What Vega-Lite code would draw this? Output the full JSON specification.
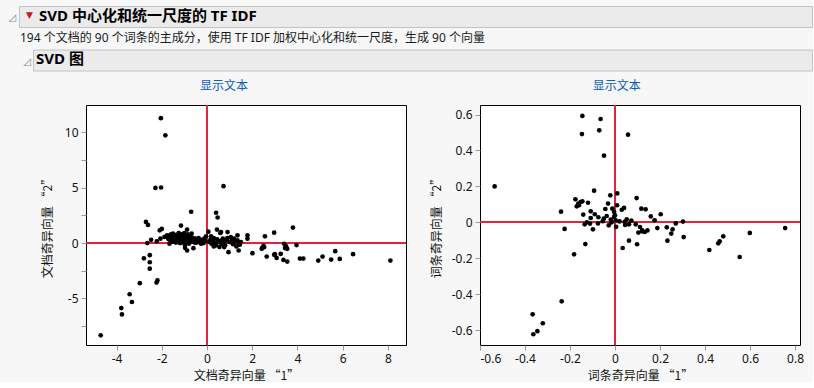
{
  "$schema": "https://vega.github.io/schema/vega-lite/v6.json",
  "background": "#f7f7f7",
  "padding": {"left": 4, "top": 5, "right": 0, "bottom": 0},
  "config": {
    "font": "Noto Sans, Noto Sans CJK SC",
    "view": {"stroke": "#000", "fill": "#ffffff", "strokeWidth": 1},
    "axis": {"grid": false, "domain": false, "tickColor": "#9a9a9a", "tickSize": 5, "labelFontSize": 12, "labelColor": "#111", "labelFont": "Noto Sans, Noto Sans CJK SC", "titleFont": "Noto Sans CJK SC", "titleFontSize": 12, "titleFontWeight": "normal", "titleColor": "#111", "labelPadding": 3, "labelOverlap": false, "tickCount": 30},
    "locale": {"number": {"decimal": ".", "thousands": ",", "grouping": [3], "currency": ["", ""], "minus": "-"}}
  },
  "title": {"text": "▼", "color": "#d0161e", "fontSize": 9, "anchor": "start", "frame": "group", "offset": -15, "dx": 21, "font": "DejaVu Sans"},
  "datasets": {
    "docs": [
      {"x": -4.70, "y": -8.33}, {"x": -3.79, "y": -5.87}, {"x": -3.76, "y": -6.44}, {"x": -3.42, "y": -4.62}, {"x": -3.32, "y": -5.32}, {"x": -2.97, "y": -3.62}, {"x": -2.79, "y": -1.37}, {"x": -2.53, "y": -1.09}, {"x": -2.53, "y": -1.73}, {"x": -2.53, "y": -2.31}, {"x": -2.23, "y": -3.56}, {"x": -2.19, "y": -3.37},
      {"x": -2.04, "y": 11.28}, {"x": -1.84, "y": 9.73}, {"x": -2.28, "y": 4.98}, {"x": -2.03, "y": 5.02}, {"x": -2.70, "y": 1.91}, {"x": -2.61, "y": 1.64}, {"x": -0.70, "y": 2.83}, {"x": 0.73, "y": 5.14}, {"x": 0.40, "y": 2.74}, {"x": 0.47, "y": 2.31},
      {"x": -2.64, "y": 0.0}, {"x": -2.47, "y": 0.30}, {"x": -2.22, "y": 0.15}, {"x": -2.09, "y": 1.15}, {"x": -2.00, "y": 1.28}, {"x": -2.06, "y": 0.40}, {"x": -1.88, "y": 0.55}, {"x": -1.76, "y": 0.70}, {"x": -1.66, "y": -0.06}, {"x": -1.59, "y": 0.79}, {"x": -1.15, "y": 1.58}, {"x": -0.88, "y": 1.22}, {"x": -0.68, "y": 0.85}, {"x": -0.97, "y": -0.43}, {"x": -0.88, "y": -0.67}, {"x": -0.60, "y": -0.46}, {"x": -0.26, "y": -0.06}, {"x": -0.04, "y": 0.61}, {"x": 0.06, "y": 1.03},
      {"x": -1.80, "y": 0.60}, {"x": -1.72, "y": 0.55}, {"x": -1.65, "y": 0.45}, {"x": -1.60, "y": 0.62}, {"x": -1.55, "y": 0.30}, {"x": -1.52, "y": 0.50}, {"x": -1.48, "y": 0.72}, {"x": -1.45, "y": 0.20}, {"x": -1.42, "y": 0.40}, {"x": -1.40, "y": 0.60}, {"x": -1.38, "y": 0.05}, {"x": -1.35, "y": 0.75}, {"x": -1.33, "y": 0.35}, {"x": -1.30, "y": 0.50}, {"x": -1.28, "y": 0.15}, {"x": -1.25, "y": 0.65}, {"x": -1.22, "y": 0.30}, {"x": -1.20, "y": 0.45}, {"x": -1.18, "y": 0.00}, {"x": -1.15, "y": 0.55}, {"x": -1.12, "y": 0.25}, {"x": -1.10, "y": 0.70}, {"x": -1.08, "y": 0.10}, {"x": -1.05, "y": 0.40}, {"x": -1.02, "y": 0.60}, {"x": -1.00, "y": 0.20}, {"x": -0.98, "y": -0.15}, {"x": -0.95, "y": 0.50}, {"x": -0.92, "y": 0.30}, {"x": -0.90, "y": 0.05}, {"x": -0.87, "y": 0.45}, {"x": -0.85, "y": 0.80}, {"x": -0.82, "y": 0.20}, {"x": -0.80, "y": -0.05}, {"x": -0.78, "y": 0.35}, {"x": -0.75, "y": 0.55}, {"x": -0.72, "y": 0.10}, {"x": -0.70, "y": 0.30}, {"x": -0.65, "y": 0.15}, {"x": -0.60, "y": 0.40}, {"x": -0.55, "y": 0.05}, {"x": -0.50, "y": 0.20}, {"x": -0.45, "y": 0.35}, {"x": -0.40, "y": 0.10}, {"x": -0.35, "y": 0.25}, {"x": -0.30, "y": 0.05}, {"x": -0.25, "y": 0.30}, {"x": -0.20, "y": 0.15}, {"x": -0.15, "y": 0.00}, {"x": -0.12, "y": 0.40}, {"x": -0.08, "y": 0.20}, {"x": -1.60, "y": 0.20}, {"x": -1.50, "y": 0.85}, {"x": -1.25, "y": 0.90}, {"x": -1.00, "y": 0.90},
      {"x": -1.70, "y": 0.35}, {"x": -1.62, "y": 0.70}, {"x": -1.57, "y": 0.10}, {"x": -1.47, "y": 0.55}, {"x": -1.43, "y": 0.25}, {"x": -1.37, "y": 0.45}, {"x": -1.32, "y": 0.65}, {"x": -1.27, "y": 0.30}, {"x": -1.23, "y": 0.05}, {"x": -1.17, "y": 0.35}, {"x": -1.13, "y": 0.80}, {"x": -1.07, "y": 0.50}, {"x": -1.03, "y": 0.15}, {"x": -0.97, "y": 0.35}, {"x": -0.93, "y": 0.65}, {"x": -0.89, "y": 0.15}, {"x": -0.84, "y": 0.40}, {"x": -0.79, "y": 0.60}, {"x": -0.74, "y": 0.20}, {"x": -0.68, "y": 0.50}, {"x": -0.63, "y": 0.30}, {"x": -0.58, "y": 0.15}, {"x": -0.52, "y": 0.40}, {"x": -0.47, "y": 0.05}, {"x": -0.42, "y": 0.25}, {"x": -0.37, "y": 0.45}, {"x": -0.32, "y": 0.15}, {"x": -0.22, "y": 0.05},
      {"x": 0.44, "y": 1.22}, {"x": 0.59, "y": 0.91}, {"x": 0.91, "y": 1.0}, {"x": 0.95, "y": -0.82}, {"x": 0.76, "y": -0.36}, {"x": 1.35, "y": 0.70}, {"x": 1.40, "y": -0.67}, {"x": 0.62, "y": 1.0}, {"x": 0.10, "y": 0.10}, {"x": 0.15, "y": 0.30}, {"x": 0.20, "y": -0.05}, {"x": 0.25, "y": 0.20}, {"x": 0.30, "y": 0.45}, {"x": 0.35, "y": 0.05}, {"x": 0.40, "y": -0.20}, {"x": 0.45, "y": 0.35}, {"x": 0.50, "y": 0.10}, {"x": 0.55, "y": -0.35}, {"x": 0.60, "y": 0.20}, {"x": 0.65, "y": -0.10}, {"x": 0.70, "y": 0.40}, {"x": 0.75, "y": 0.05}, {"x": 0.80, "y": -0.20}, {"x": 0.85, "y": 0.25}, {"x": 0.90, "y": 0.45}, {"x": 1.00, "y": 0.10}, {"x": 1.05, "y": 0.55}, {"x": 1.10, "y": 0.30}, {"x": 1.15, "y": -0.10}, {"x": 1.20, "y": 0.40}, {"x": 1.25, "y": 0.15}, {"x": 1.30, "y": -0.30}, {"x": 1.35, "y": 0.25}, {"x": 1.40, "y": 0.05}, {"x": 1.45, "y": -0.15}, {"x": 1.50, "y": 0.10}, {"x": 0.30, "y": -0.30}, {"x": 0.18, "y": 0.60},
      {"x": 1.79, "y": 0.70}, {"x": 1.79, "y": 0.40}, {"x": 2.01, "y": -0.91}, {"x": 2.42, "y": -0.52}, {"x": 2.56, "y": 0.61}, {"x": 2.53, "y": -0.36}, {"x": 2.64, "y": -1.22}, {"x": 2.97, "y": 0.94}, {"x": 2.97, "y": -1.06}, {"x": 3.08, "y": -1.34}, {"x": 3.26, "y": -0.97}, {"x": 3.38, "y": -1.52}, {"x": 3.41, "y": -0.06}, {"x": 3.48, "y": -0.36}, {"x": 3.55, "y": -0.52}, {"x": 3.55, "y": -1.67}, {"x": 3.80, "y": 1.40}, {"x": 3.96, "y": -0.18}, {"x": 4.11, "y": -1.40}, {"x": 4.26, "y": -1.40}, {"x": 4.92, "y": -1.58}, {"x": 5.11, "y": -1.22}, {"x": 5.49, "y": -1.49}, {"x": 5.67, "y": -0.73}, {"x": 5.87, "y": -1.43}, {"x": 6.46, "y": -1.00}, {"x": 8.11, "y": -1.58}, {"x": 2.45, "y": -0.40}, {"x": 3.00, "y": -1.00}, {"x": 3.45, "y": -0.45}, {"x": 3.50, "y": -0.30}, {"x": 2.50, "y": -0.25}
    ],
    "terms": [
      {"x": -0.535, "y": 0.200}, {"x": -0.145, "y": 0.592}, {"x": -0.147, "y": 0.491}, {"x": -0.064, "y": 0.575}, {"x": -0.070, "y": 0.512}, {"x": -0.049, "y": 0.371}, {"x": 0.058, "y": 0.488}, {"x": -0.240, "y": 0.059}, {"x": -0.224, "y": -0.037}, {"x": -0.182, "y": -0.178},
      {"x": -0.237, "y": -0.440}, {"x": -0.366, "y": -0.512}, {"x": -0.363, "y": -0.623}, {"x": -0.345, "y": -0.606}, {"x": -0.321, "y": -0.562}, {"x": -0.176, "y": 0.128}, {"x": -0.170, "y": 0.089}, {"x": -0.153, "y": 0.113}, {"x": -0.145, "y": 0.117}, {"x": -0.163, "y": 0.104},
      {"x": -0.120, "y": 0.109}, {"x": -0.141, "y": 0.043}, {"x": -0.135, "y": -0.011}, {"x": -0.132, "y": -0.121}, {"x": -0.108, "y": 0.061}, {"x": -0.108, "y": 0.024}, {"x": -0.111, "y": -0.007}, {"x": -0.098, "y": -0.039}, {"x": -0.093, "y": 0.176}, {"x": -0.074, "y": 0.028},
      {"x": -0.076, "y": -0.006}, {"x": -0.055, "y": 0.006}, {"x": -0.043, "y": 0.074}, {"x": -0.037, "y": 0.035}, {"x": -0.031, "y": 0.104}, {"x": -0.021, "y": 0.150}, {"x": -0.028, "y": -0.017}, {"x": -0.019, "y": 0.015}, {"x": -0.012, "y": 0.076}, {"x": -0.004, "y": 0.057},
      {"x": 0.003, "y": 0.011}, {"x": 0.009, "y": 0.095}, {"x": 0.010, "y": 0.161}, {"x": 0.000, "y": 0.039}, {"x": 0.040, "y": 0.080}, {"x": 0.034, "y": -0.143}, {"x": 0.062, "y": -0.102}, {"x": 0.043, "y": 0.002}, {"x": 0.052, "y": 0.017}, {"x": 0.062, "y": -0.011},
      {"x": 0.073, "y": 0.009}, {"x": 0.096, "y": 0.135}, {"x": 0.092, "y": -0.011}, {"x": 0.098, "y": -0.122}, {"x": 0.104, "y": -0.057}, {"x": 0.111, "y": -0.026}, {"x": 0.117, "y": 0.076}, {"x": 0.121, "y": -0.045}, {"x": 0.136, "y": 0.072}, {"x": 0.132, "y": -0.054},
      {"x": 0.144, "y": -0.045}, {"x": 0.159, "y": 0.033}, {"x": 0.176, "y": 0.011}, {"x": 0.188, "y": -0.032}, {"x": 0.203, "y": 0.045}, {"x": 0.230, "y": -0.028}, {"x": 0.233, "y": -0.102}, {"x": 0.250, "y": -0.063}, {"x": 0.256, "y": -0.039}, {"x": 0.270, "y": -0.006},
      {"x": 0.302, "y": 0.004}, {"x": 0.305, "y": -0.082}, {"x": 0.419, "y": -0.154}, {"x": 0.459, "y": -0.117}, {"x": 0.465, "y": -0.106}, {"x": 0.481, "y": -0.078}, {"x": 0.554, "y": -0.193}, {"x": 0.599, "y": -0.059}, {"x": 0.756, "y": -0.032}, {"x": -0.004, "y": 0.030},
      {"x": -0.015, "y": 0.000}, {"x": 0.020, "y": 0.005}, {"x": -0.050, "y": 0.020}, {"x": 0.045, "y": -0.015}, {"x": -0.160, "y": 0.095}, {"x": -0.125, "y": 0.000}, {"x": 0.120, "y": -0.050}, {"x": 0.030, "y": 0.070}, {"x": -0.090, "y": 0.045}, {"x": 0.005, "y": -0.025}
    ]
  },
  "spacing": 8,
  "vconcat": [
    {
      "spacing": 3.5,
      "vconcat": [
        {
          "bounds": "flush",
          "spacing": 0,
          "hconcat": [
            {
              "width": 14, "height": 21,
              "view": {"stroke": null, "fill": null},
              "title": {"text": "◿", "color": "#8a8a8a", "fontSize": 10, "anchor": "start", "dx": 4, "offset": -17, "font": "DejaVu Sans"},
              "data": {"values": [{}]},
              "mark": {"type": "rule", "opacity": 0},
              "encoding": {}
            },
            {
              "width": 793, "height": 21,
              "view": {"stroke": "#c2c2c2", "fill": "#ebebeb"},
              "title": {"text": "SVD 中心化和统一尺度的 TF IDF", "anchor": "start", "frame": "group", "offset": -18, "dx": 20, "fontSize": 15, "fontWeight": "bold", "color": "#000"},
              "data": {"values": [{}]},
              "mark": {"type": "rule", "opacity": 0},
              "encoding": {}
            }
          ]
        },
        {
          "bounds": "flush",
          "spacing": 0,
          "hconcat": [
            {
              "width": 28, "height": 21,
              "view": {"stroke": null, "fill": null},
              "title": {
                "text": "194 个文档的 90 个词条的主成分，使用 TF IDF 加权中心化和统一尺度，生成 90 个向量",
                "subtitle": "\u200b\u00a0◿",
                "anchor": "start", "frame": "group", "dx": 15, "offset": -19,
                "fontSize": 12, "fontWeight": "normal", "color": "#1a1a1a",
                "subtitleFont": "DejaVu Sans", "subtitleFontSize": 10, "subtitleColor": "#8a8a8a", "subtitlePadding": 12
              },
              "data": {"values": [{}]},
              "mark": {"type": "rule", "opacity": 0},
              "encoding": {}
            },
            {
              "width": 779, "height": 21,
              "view": {"stroke": "#c2c2c2", "fill": "#ebebeb"},
              "title": {"text": "SVD 图", "anchor": "start", "frame": "group", "offset": -18, "dx": 3, "fontSize": 15, "fontWeight": "bold", "color": "#000"},
              "data": {"values": [{}]},
              "mark": {"type": "rule", "opacity": 0},
              "encoding": {}
            }
          ]
        }
      ]
    },
    {
      "bounds": "flush",
      "spacing": 0,
      "hconcat": [
        {
          "width": 81, "height": 240,
          "view": {"stroke": null, "fill": null},
          "data": {"values": [{}]},
          "mark": {"type": "rule", "opacity": 0},
          "encoding": {}
        },
        {
          "width": 320, "height": 240,
          "title": {"text": "显示文本", "frame": "bounds", "anchor": "middle", "fontSize": 12, "fontWeight": "normal", "color": "#0a5cb8", "offset": 12},
          "data": {"name": "docs"},
          "layer": [
            {"mark": {"type": "rule", "color": "#e6233a", "strokeWidth": 1}, "encoding": {"x": {"datum": 0, "type": "quantitative"}}},
            {"mark": {"type": "rule", "color": "#e6233a", "strokeWidth": 1}, "encoding": {"y": {"datum": 0, "type": "quantitative"}}},
            {
              "mark": {"type": "circle", "size": 22, "color": "#000", "opacity": 1},
              "encoding": {
                "x": {"field": "x", "type": "quantitative", "scale": {"domain": [-5.35, 8.8], "nice": false, "zero": false},
                      "axis": {"values": [-4, -2, 0, 2, 4, 6, 8], "tickCount": 30, "format": "~g", "labelOverlap": false, "title": "文档奇异向量 “1”", "titlePadding": 6}},
                "y": {"field": "y", "type": "quantitative", "scale": {"domain": [-9.2, 12.47], "nice": false, "zero": false},
                      "axis": {"values": [-7.5, -5, -2.5, 0, 2.5, 5, 7.5, 10], "tickCount": 30, "format": "~g", "labelOverlap": false, "labelExpr": "datum.value % 5 === 0 ? datum.label : ''", "title": "文档奇异向量 “2”", "titlePadding": 10}}
              }
            }
          ]
        },
        {
          "width": 74, "height": 240,
          "view": {"stroke": null, "fill": null},
          "data": {"values": [{}]},
          "mark": {"type": "rule", "opacity": 0},
          "encoding": {}
        },
        {
          "width": 320, "height": 240,
          "title": {"text": "显示文本", "frame": "bounds", "anchor": "middle", "fontSize": 12, "fontWeight": "normal", "color": "#0a5cb8", "offset": 12},
          "data": {"name": "terms"},
          "layer": [
            {"mark": {"type": "rule", "color": "#e6233a", "strokeWidth": 1}, "encoding": {"x": {"datum": 0, "type": "quantitative"}}},
            {"mark": {"type": "rule", "color": "#e6233a", "strokeWidth": 1}, "encoding": {"y": {"datum": 0, "type": "quantitative"}}},
            {
              "mark": {"type": "circle", "size": 22, "color": "#000", "opacity": 1},
              "encoding": {
                "x": {"field": "x", "type": "quantitative", "scale": {"domain": [-0.6, 0.822], "nice": false, "zero": false},
                      "axis": {"values": [-0.6, -0.4, -0.2, 0, 0.2, 0.4, 0.6, 0.8], "tickCount": 30, "format": "~g", "labelOverlap": false, "title": "词条奇异向量 “1”", "titlePadding": 6}},
                "y": {"field": "y", "type": "quantitative", "scale": {"domain": [-0.683, 0.653], "nice": false, "zero": false},
                      "axis": {"values": [-0.6, -0.4, -0.2, 0, 0.2, 0.4, 0.6], "tickCount": 30, "format": "~g", "labelOverlap": false, "title": "词条奇异向量 “2”", "titlePadding": 8}}
              }
            }
          ]
        }
      ]
    }
  ]
}
